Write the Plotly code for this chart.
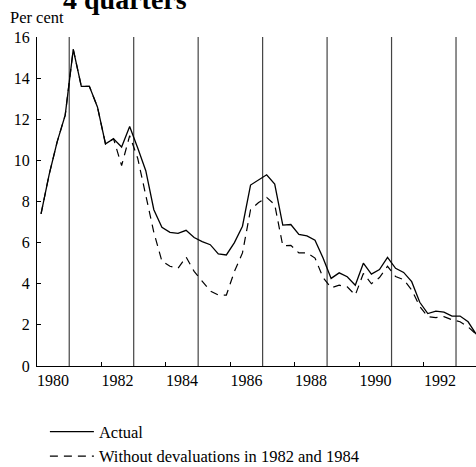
import plotly.graph_objects as go

# Quarterly observations, 1980Q1 .. 1993Q3
years = list(range(1980, 1994))
quarters_per_year = 4
actual = [7.4, 9.3, 10.9, 12.2,
          15.4, 13.6, 13.6, 12.6,
          10.8, 11.05, 10.65, 11.65,
          10.6, 9.5, 7.6, 6.75,
          6.5, 6.45, 6.6, 6.25,
          6.05, 5.9, 5.45, 5.4,
          6.0, 6.8, 8.8, 9.05,
          9.3, 8.85, 6.85, 6.88,
          6.4, 6.33, 6.12, 5.25,
          4.26, 4.53, 4.34, 3.93,
          5.0, 4.47, 4.69, 5.28,
          4.75, 4.55, 4.1, 3.1,
          2.55, 2.67, 2.62, 2.43,
          2.43, 2.15, 1.55]
without_devaluations = [7.4, 9.3, 10.9, 12.2,
                        15.4, 13.6, 13.6, 12.6,
                        10.8, 11.05, 9.75, 11.2,
                        10.1, 8.3, 6.5, 5.1,
                        4.85, 4.75, 5.3, 4.6,
                        4.15, 3.65, 3.45, 3.45,
                        4.6, 5.5, 7.6, 7.95,
                        8.2, 7.85, 5.85, 5.87,
                        5.5, 5.5, 5.25, 4.3,
                        3.8, 3.93, 3.85, 3.45,
                        4.5, 4.0, 4.3, 4.85,
                        4.35, 4.2, 3.7, 2.9,
                        2.4, 2.35, 2.4, 2.25,
                        2.15, 1.9, 1.55]
# quarter mid-points on a continuous year scale
t = [1980 + (i + 0.5) / quarters_per_year for i in range(len(actual))]

tick_labels = ["1980", "1982", "1984", "1986", "1988", "1990", "1992"]
label_positions = [int(s) + 0.5 for s in tick_labels]
tick_marks = [1982, 1984, 1986, 1988, 1990, 1992]
vertical_lines = [1981, 1983, 1985, 1987, 1989, 1991, 1993]
y_ticks = [0, 2, 4, 6, 8, 10, 12, 14, 16]

FONT = "Liberation Serif, Times New Roman, serif"

fig = go.Figure()
fig.add_trace(go.Scatter(x=t, y=actual, mode="lines", name="Actual",
                         line=dict(color="black", width=1.3)))
fig.add_trace(go.Scatter(x=t, y=without_devaluations, mode="lines",
                         name="Without devaluations in 1982 and 1984",
                         line=dict(color="black", width=1.2, dash="8px,6px")))

for v in vertical_lines:
    fig.add_shape(type="line", xref="x", yref="y", x0=v, x1=v, y0=0, y1=16,
                  line=dict(color="#444444", width=1.2), layer="below")

fig.update_layout(
    width=476, height=467,
    margin=dict(l=37, r=0, t=37, b=101, autoexpand=False),
    paper_bgcolor="white", plot_bgcolor="white",
    font=dict(family=FONT, size=16, color="black"),
    showlegend=True,
    legend=dict(x=0.018, y=-0.147, xanchor="left", yanchor="top",
                itemwidth=44,
                font=dict(family=FONT, size=16.5, color="black"),
                bgcolor="rgba(0,0,0,0)", tracegroupgap=0),
    xaxis=dict(range=[1980, 1993.62], showgrid=False, zeroline=False,
               automargin=False,
               showline=True, linecolor="black", linewidth=1.2,
               tickmode="array", tickvals=label_positions, ticktext=tick_labels,
               ticks="", tickfont=dict(family=FONT, size=16),
               minor=dict(tickmode="array", tickvals=tick_marks, ticks="inside",
                          ticklen=4, tickcolor="black", showgrid=False)),
    yaxis=dict(range=[0, 16], showgrid=False, zeroline=False,
               automargin=False,
               showline=True, linecolor="black", linewidth=1.2,
               tickmode="array", tickvals=y_ticks, ticks="inside", ticklen=4,
               ticklabelstandoff=3,
               tickcolor="black", tickfont=dict(family=FONT, size=16)),
    annotations=[
        dict(text="<b>4 quarters</b>", xref="paper", yref="paper",
             x=0.2, y=1.115, xanchor="center", yanchor="middle",
             showarrow=False, font=dict(family=FONT, size=28, color="black")),
        dict(text="Per cent", xref="paper", yref="paper",
             x=-0.066, y=1.058, xanchor="left", yanchor="middle",
             showarrow=False, font=dict(family=FONT, size=16.5, color="black")),
    ],
)

fig.write_html("out.html", config={"displayModeBar": False},
               post_script="document.body.style.margin='0';")
